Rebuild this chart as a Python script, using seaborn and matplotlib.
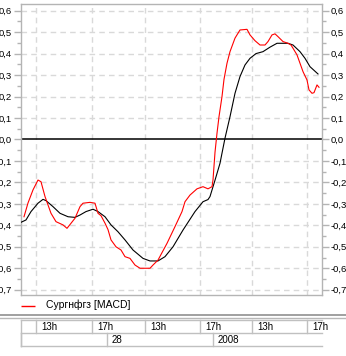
import matplotlib
matplotlib.use("Agg")
import matplotlib.pyplot as plt
import seaborn as sns
import pandas as pd
from matplotlib.ticker import MultipleLocator, FuncFormatter

# MACD line (red) and its signal line (black), indexed by bar number
macd_bars = [3, 7, 12, 17, 20, 24, 30, 35, 42, 46, 54, 59, 62, 69, 74, 77, 80, 84,
             87, 90, 95, 100, 104, 109, 114, 119, 129, 132, 137, 146, 154, 161, 164,
             169, 176, 182, 187, 191, 192, 194, 196, 198, 201, 203, 206, 209, 214,
             219, 226, 229, 234, 239, 244, 247, 251, 254, 257, 262, 267, 270, 272,
             276, 279, 282, 286, 288, 291, 293, 296, 298]
macd = [-0.36, -0.296, -0.235, -0.189, -0.197, -0.266, -0.344, -0.383, -0.398, -0.414,
        -0.367, -0.313, -0.297, -0.293, -0.297, -0.344, -0.355, -0.39, -0.42, -0.468,
        -0.50, -0.515, -0.546, -0.554, -0.585, -0.60, -0.60, -0.585, -0.562, -0.484,
        -0.406, -0.336, -0.29, -0.259, -0.23, -0.22, -0.23, -0.22, -0.189, -0.06,
        0.029, 0.106, 0.20, 0.28, 0.355, 0.409, 0.472, 0.51, 0.513, 0.487, 0.46,
        0.44, 0.44, 0.456, 0.487, 0.492, 0.479, 0.456, 0.448, 0.44, 0.425, 0.394,
        0.355, 0.316, 0.277, 0.231, 0.215, 0.218, 0.254, 0.243]

signal_bars = [0, 5, 10, 17, 22, 25, 32, 39, 47, 54, 59, 65, 72, 77, 84, 90, 97, 104,
               112, 122, 129, 137, 144, 152, 162, 174, 182, 187, 189, 194, 199, 201,
               204, 209, 214, 219, 224, 229, 235, 242, 249, 256, 267, 272, 279, 284,
               289, 297]
signal = [-0.386, -0.375, -0.336, -0.297, -0.279, -0.285, -0.313, -0.344, -0.36, -0.363,
          -0.352, -0.336, -0.325, -0.336, -0.36, -0.398, -0.43, -0.468, -0.515, -0.554,
          -0.566, -0.566, -0.546, -0.50, -0.422, -0.336, -0.29, -0.28, -0.266, -0.19,
          -0.111, -0.064, 0.006, 0.106, 0.215, 0.293, 0.347, 0.378, 0.40, 0.409, 0.43,
          0.448, 0.448, 0.44, 0.409, 0.378, 0.339, 0.305]

# Time scale: hour marks and day boundaries (bar numbers)
hour_bars = [15, 71, 124, 179, 231, 286]
hour_labels = ["13h", "17h", "13h", "17h", "13h", "17h"]
day_bars = [0, 86, 192]
day_labels = ["", "28", "2008"]

legend_label = "Сургнфгз [MACD]"

W, H = 346, 356
plt.rcParams["font.family"] = ["Liberation Sans", "DejaVu Sans"]
plt.rcParams["font.size"] = 7

fig = plt.figure(figsize=(W / 100, H / 100), dpi=100)
fig.patch.set_facecolor("white")

# pixel-space canvas for the legend strip and time table
bg = fig.add_axes([0, 0, 1, 1])
bg.set_xlim(0, W)
bg.set_ylim(H, 0)
bg.axis("off")

ax = fig.add_axes([20.5 / W, (H - 295) / H, 301.5 / W, 291 / H])
ax.set_facecolor("none")

GRID = "#d9d9d9"
SPINE = "#b4b4b4"
RED = "#ff0000"
LW = 0.8

df_macd = pd.DataFrame({"bar": macd_bars, "value": macd})
df_sig = pd.DataFrame({"bar": signal_bars, "value": signal})
sns.lineplot(data=df_sig, x="bar", y="value", ax=ax, color="black", linewidth=LW,
             zorder=3)
sns.lineplot(data=df_macd, x="bar", y="value", ax=ax, color=RED, linewidth=LW,
             zorder=4)
for line in ax.get_lines():
    line.set_linewidth(LW)
ax.axhline(0, color="black", lw=1.1, zorder=2)

ax.set_xlim(-0.5, 301)
ax.set_ylim(-0.7246, 0.631)
ax.set_xlabel("")
ax.set_ylabel("")

ax.yaxis.set_major_locator(MultipleLocator(0.1))
ax.yaxis.set_minor_locator(MultipleLocator(0.05))
ax.yaxis.set_major_formatter(FuncFormatter(lambda v, p: f"{v:.1f}".replace(".", ",").replace("-0,0", "0,0")))
ax.set_xticks(hour_bars)
ax.set_xticklabels([])
ax.tick_params(axis="x", length=0)
ax.tick_params(axis="y", which="major", length=5, width=1, color=SPINE,
               left=True, right=True, labelleft=True, labelright=True, pad=1,
               labelsize=6.8)
ax.tick_params(axis="y", which="minor", length=3, width=1, color=SPINE,
               left=True, right=True)

for v in [round(-0.7 + 0.1 * i, 1) for i in range(14)]:
    if abs(v) > 1e-9:
        ax.axhline(v, color=GRID, lw=1, ls=(0, (4, 3)), zorder=1)
for b in hour_bars:
    ax.axvline(b, color=GRID, lw=1, ls=(0, (4, 3)), zorder=1)

for s in ax.spines.values():
    s.set_color(SPINE)
    s.set_linewidth(1)

fig.canvas.draw()


def px(bar):
    # horizontal pixel position of a bar number on the chart scale
    x, _ = ax.transData.transform((bar, 0))
    return x


left_px = px(ax.get_xlim()[0])
right_px = px(ax.get_xlim()[1])

# legend strip
bg.plot([21, 35], [305.5, 305.5], color=RED, lw=1.0, solid_capstyle="butt")
bg.text(46, 305, legend_label, va="center", ha="left", fontsize=7.5)

# separator
bg.plot([0, W], [314.5, 314.5], color="#909090", lw=1.2)
bg.plot([0, W], [317.5, 317.5], color="#b8b8b8", lw=1.0)

# time table
TBL = "#c0c0c0"
r0, r1, r2 = 320, 333, 346
for y in (r0, r1, r2):
    bg.plot([left_px, right_px], [y, y], color=TBL, lw=1)
bg.plot([left_px, left_px], [r0, r2], color=TBL, lw=1)
for b, lab in zip(hour_bars, hour_labels):
    x = px(b)
    bg.plot([x, x], [r0, r1], color=TBL, lw=1)
    bg.text(x + 5, (r0 + r1) / 2 + 0.5, lab, va="center", ha="left", fontsize=7)
for b, lab in zip(day_bars, day_labels):
    x = px(b)
    bg.plot([x, x], [r1, r2], color=TBL, lw=1)
    bg.text(x + 5, (r1 + r2) / 2 + 0.5, lab, va="center", ha="left", fontsize=7)

fig.savefig("out.png", dpi=100)
